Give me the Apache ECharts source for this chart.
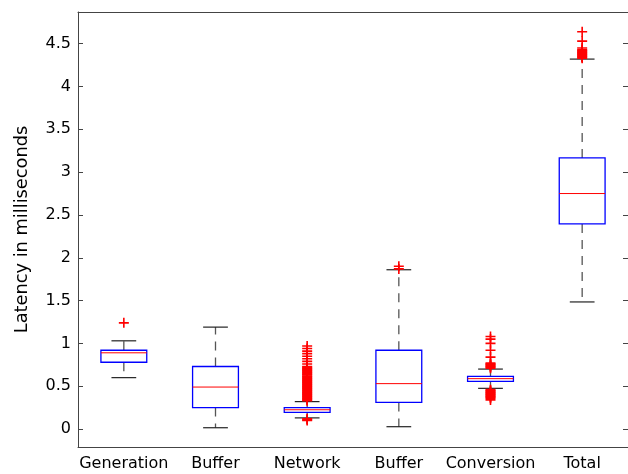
<!DOCTYPE html>
<html>
<head>
<meta charset="utf-8">
<script src="https://cdn.jsdelivr.net/npm/echarts@6/dist/echarts.min.js"></script>
<style>
  html, body { margin: 0; padding: 0; background: #fff; }
  #chart { width: 628px; height: 474px; }
</style>
</head>
<body>
<div id="chart"></div>
<script>
// categories along the x axis
const categories = ['Generation', 'Buffer', 'Network', 'Buffer', 'Conversion', 'Total'];

// box stats per category: [lower whisker, q1, median, q3, upper whisker]
const boxStats = [
  [0.60, 0.78, 0.89, 0.92, 1.03],
  [0.015, 0.25, 0.49, 0.73, 1.19],
  [0.13, 0.195, 0.225, 0.25, 0.32],
  [0.027, 0.31, 0.53, 0.92, 1.86],
  [0.475, 0.556, 0.588, 0.615, 0.70],
  [1.484, 2.395, 2.75, 3.166, 4.32]
];

// outliers per category
const outliers = [
  [1.24],
  [],
  [0.10, 0.11, 0.12,
   0.33, 0.34, 0.35, 0.36, 0.37, 0.38, 0.39, 0.40, 0.41, 0.42, 0.43, 0.44, 0.45, 0.46, 0.47,
   0.48, 0.49, 0.50, 0.51, 0.52, 0.53, 0.54, 0.55, 0.56, 0.57, 0.58, 0.59, 0.60, 0.61, 0.62,
   0.63, 0.64, 0.65, 0.66, 0.67, 0.68, 0.69, 0.70, 0.71, 0.72, 0.73,
   0.76, 0.79, 0.82, 0.85, 0.88, 0.91, 0.94, 0.97],
  [1.87, 1.90],
  [0.34, 0.36, 0.37, 0.38, 0.39, 0.40, 0.41, 0.42, 0.43, 0.44, 0.45, 0.46,
   0.71, 0.72, 0.73, 0.74, 0.75, 0.76, 0.77, 0.84, 0.92, 1.00, 1.05, 1.08],
  [4.33, 4.34, 4.35, 4.36, 4.37, 4.38, 4.39, 4.40, 4.41, 4.42, 4.43, 4.45, 4.53, 4.64]
];

// y tick labels
const yTicks = [0, 0.5, 1, 1.5, 2, 2.5, 3, 3.5, 4, 4.5];

const axisColor = '#444';
const font = 'DejaVu Sans';

const boxData = boxStats.map((s, i) => [i].concat(s));
const outlierData = [];
outliers.forEach((list, i) => list.forEach(v => outlierData.push([i, v])));

function renderBox(params, api) {
  const i = api.value(0);
  const band = api.size([1, 0])[0];
  const hw = band * 0.25;
  const cw = band * 0.135;
  const lo = api.coord([i, api.value(1)]);
  const q1 = api.coord([i, api.value(2)]);
  const md = api.coord([i, api.value(3)]);
  const q3 = api.coord([i, api.value(4)]);
  const hi = api.coord([i, api.value(5)]);
  const x = lo[0];
  const dash = { stroke: '#555', lineWidth: 1.3, lineDash: [9, 7] };
  const cap = { stroke: '#222', lineWidth: 1.2 };
  return {
    type: 'group',
    children: [
      { type: 'line', shape: { x1: x, y1: q3[1], x2: x, y2: hi[1] }, style: dash },
      { type: 'line', shape: { x1: x, y1: q1[1], x2: x, y2: lo[1] }, style: dash },
      { type: 'line', shape: { x1: x - cw, y1: hi[1], x2: x + cw, y2: hi[1] }, style: cap },
      { type: 'line', shape: { x1: x - cw, y1: lo[1], x2: x + cw, y2: lo[1] }, style: cap },
      { type: 'rect', shape: { x: x - hw, y: q3[1], width: hw * 2, height: q1[1] - q3[1] },
        style: { fill: null, stroke: '#0000ff', lineWidth: 1.3 } },
      { type: 'line', shape: { x1: x - hw, y1: md[1], x2: x + hw, y2: md[1] },
        style: { stroke: '#ff0000', lineWidth: 1 } }
    ]
  };
}

const chart = echarts.init(document.getElementById('chart'));
chart.setOption({
  animation: false,
  grid: { left: 78, top: 12, right: -1, bottom: 27 },
  xAxis: [
    {
      type: 'category',
      data: categories,
      position: 'bottom',
      axisLine: { onZero: false, lineStyle: { color: axisColor, width: 1 } },
      axisTick: { inside: true, length: 5, alignWithLabel: true, lineStyle: { color: axisColor } },
      axisLabel: { color: '#000', fontFamily: font, fontSize: 16, margin: 9, interval: 0 },
      splitLine: { show: false }
    },
    {
      type: 'category',
      data: categories,
      position: 'top',
      axisLine: { onZero: false, lineStyle: { color: axisColor, width: 1 } },
      axisTick: { inside: true, length: 5, alignWithLabel: true, lineStyle: { color: axisColor } },
      axisLabel: { show: false },
      splitLine: { show: false }
    }
  ],
  yAxis: [
    {
      type: 'value',
      min: -0.21,
      max: 4.87,
      position: 'left',
      name: 'Latency in milliseconds',
      nameLocation: 'middle',
      nameGap: 47,
      nameTextStyle: { color: '#000', fontFamily: font, fontSize: 17.8 },
      axisLine: { show: true, onZero: false, lineStyle: { color: axisColor, width: 1 } },
      axisTick: { show: true, inside: true, length: 5, customValues: yTicks, lineStyle: { color: axisColor } },
      axisLabel: { color: '#000', fontFamily: font, fontSize: 16, margin: 7, customValues: yTicks },
      splitLine: { show: false }
    },
    {
      type: 'value',
      min: -0.21,
      max: 4.87,
      position: 'right',
      axisLine: { show: true, onZero: false, lineStyle: { color: axisColor, width: 1 } },
      axisTick: { show: true, inside: true, length: 5, customValues: yTicks, lineStyle: { color: axisColor } },
      axisLabel: { show: false },
      splitLine: { show: false }
    }
  ],
  series: [
    {
      type: 'custom',
      renderItem: renderBox,
      encode: { x: 0, y: [1, 2, 3, 4, 5] },
      data: boxData,
      z: 2
    },
    {
      type: 'scatter',
      data: outlierData,
      symbol: 'path://M4.2 0H5.8V10H4.2Z M0 4.2H10V5.8H0Z',
      symbolSize: 10,
      itemStyle: { color: '#ff0000', opacity: 1 },
      z: 3
    }
  ]
});
</script>
</body>
</html>
